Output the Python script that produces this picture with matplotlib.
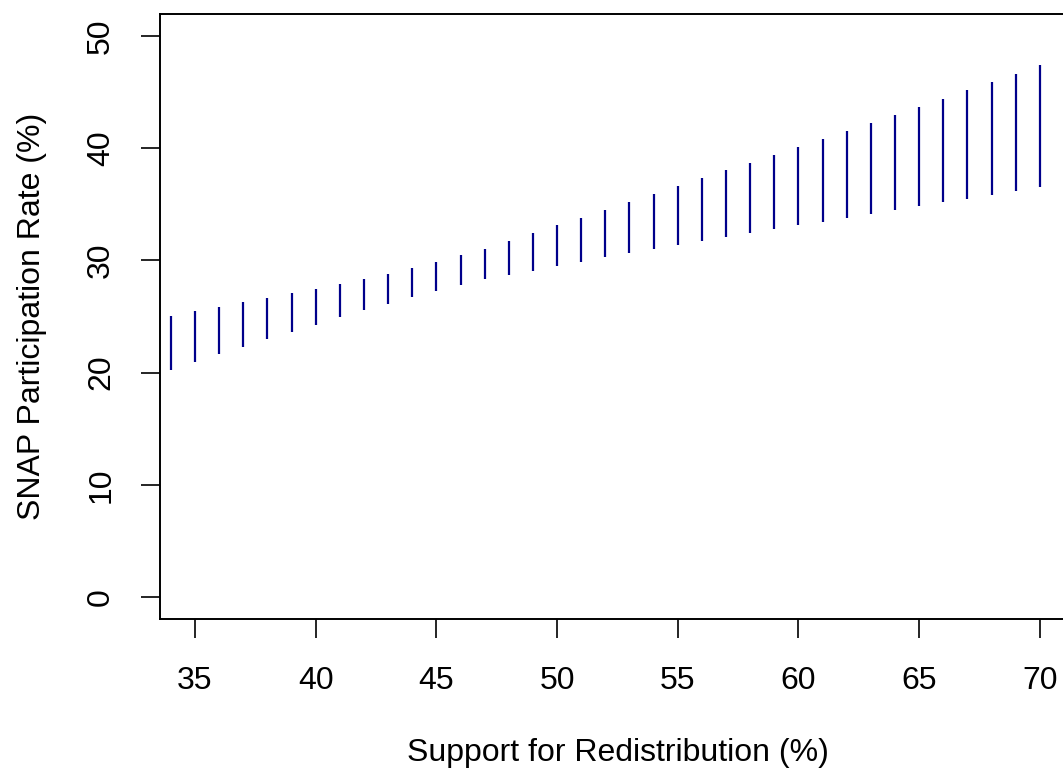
import numpy as np
import matplotlib.pyplot as plt

plt.rcParams['font.family'] = ['Liberation Sans', 'DejaVu Sans']

# support for redistribution (%) and interval bounds of SNAP participation (%)
support = list(range(34, 71))
lower = [20.23, 20.92, 21.63, 22.28, 22.97, 23.62, 24.27, 24.92, 25.55, 26.14,
         26.74, 27.24, 27.81, 28.31, 28.67, 29.08, 29.47, 29.87, 30.27, 30.63,
         31.04, 31.37, 31.73, 32.11, 32.44, 32.80, 33.13, 33.45, 33.78, 34.14,
         34.52, 34.88, 35.18, 35.50, 35.83, 36.16, 36.52]
upper = [25.07, 25.49, 25.85, 26.26, 26.65, 27.06, 27.45, 27.90, 28.34, 28.79,
         29.35, 29.89, 30.45, 31.04, 31.76, 32.47, 33.13, 33.81, 34.49, 35.18,
         35.89, 36.60, 37.34, 38.03, 38.71, 39.42, 40.11, 40.85, 41.56, 42.25,
         42.99, 43.67, 44.41, 45.16, 45.90, 46.64, 47.39]
xticks = [35, 40, 45, 50, 55, 60, 65, 70]
yticks = [0, 10, 20, 30, 40, 50]

fig = plt.figure(figsize=(10.63, 7.73), dpi=100)
ax = fig.add_axes([160/1063, 1 - 619.4/773, 916/1063, (619.4 - 13.6)/773])

ax.vlines(support, lower, upper, color='#00008B', lw=1.6)

ax.set_xlim(33.55, 71.5)
ax.set_ylim(-2, 52)
ax.set_xticks(xticks)
ax.set_yticks(yticks)
ax.set_yticklabels([str(v) for v in yticks], rotation=90, va='center')
ax.tick_params(axis='both', length=13.5, width=1.2, labelsize=23)
ax.tick_params(axis='x', pad=20)
ax.tick_params(axis='y', pad=18)

for s in ax.spines.values():
    s.set_linewidth(1.4)
    s.set_color('black')

ax.set_xlabel('Support for Redistribution (%)', fontsize=23, labelpad=30)
ax.set_ylabel('SNAP Participation Rate (%)', fontsize=23, labelpad=28)

fig.savefig('out.png', dpi=100)
